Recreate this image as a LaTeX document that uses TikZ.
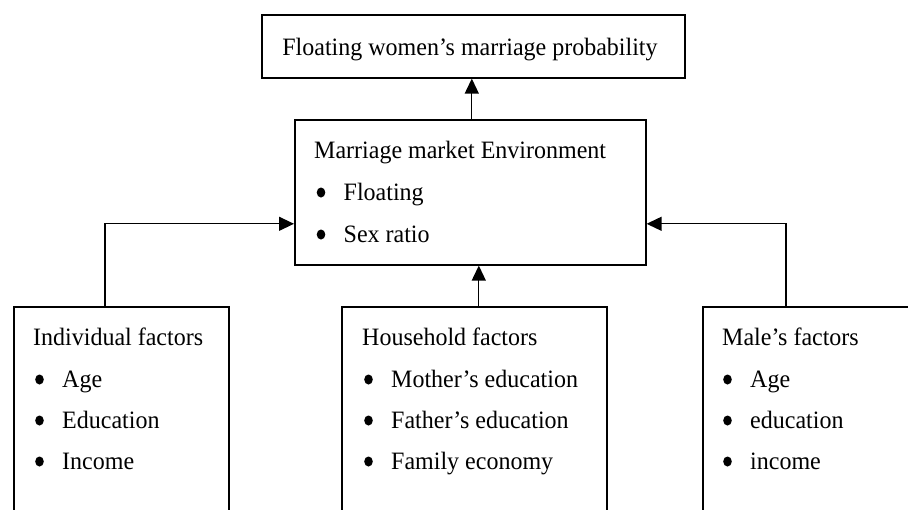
\documentclass[tikz,border=0pt]{standalone}
\usepackage{fontspec}
\setmainfont[FakeStretch=0.96]{Liberation Serif}
\usetikzlibrary{arrows.meta}
\newcommand{\bul}{\tikz[baseline=0pt,x=1pt,y=1pt]{\fill (4.3,7.5) ellipse (4.3 and 5); \path (0,0);}}
\newcommand{\itm}[1]{\makebox[27pt][l]{\bul}#1}
\begin{document}
\begin{tikzpicture}[x=1pt,y=-1pt,
  box/.style={draw, line width=1.6pt, rectangle, inner sep=0pt, anchor=north west},
  txt/.style={anchor=base west, inner sep=0pt, font=\fontsize{25}{29}\selectfont},
  arr/.style={line width=1.3pt, -{Triangle[length=15pt,width=14pt]}}]
\useasboundingbox (0,0) rectangle (908,509);
\clip (0,0) rectangle (908,509);
% boxes
\node[box, minimum width=423pt, minimum height=63pt] (top) at (261,14) {};
\node[box, minimum width=351pt, minimum height=145pt] (mid) at (294,119) {};
\node[box, minimum width=215pt, minimum height=230pt] (lb) at (13,306) {};
\node[box, minimum width=265pt, minimum height=230pt] (mb) at (341,306) {};
\node[box, minimum width=230pt, minimum height=230pt] (rb) at (702,306) {};
% texts
\node[anchor=base, inner sep=0pt, font=\fontsize{25}{29}\selectfont] (t0) at (470,55) {Floating women’s marriage probability};
\node[txt] (m0) at (314,158) {Marriage market Environment};
\node[txt] (m1) at (316.5,200) {\itm{Floating}};
\node[txt] (m2) at (316.5,242) {\itm{Sex ratio}};
\node[txt] (l0) at (33,345) {Individual factors};
\node[txt] (l1) at (35,387) {\itm{Age}};
\node[txt] (l2) at (35,428) {\itm{Education}};
\node[txt] (l3) at (35,469) {\itm{Income}};
\node[txt] (h0) at (362,345) {Household factors};
\node[txt] (h1) at (364,387) {\itm{Mother’s education}};
\node[txt] (h2) at (364,428) {\itm{Father’s education}};
\node[txt] (h3) at (364,469) {\itm{Family economy}};
\node[txt] (r0) at (722,345) {Male’s factors};
\node[txt] (r1) at (723,387) {\itm{Age}};
\node[txt] (r2) at (723,428) {\itm{education}};
\node[txt] (r3) at (723,469) {\itm{income}};
% connectors
\draw[arr] ([xshift=1.5pt]mid.north) -- ([xshift=1.5pt]mid.north |- top.south);
\draw[arr] ([xshift=4.5pt]mb.north) -- ([xshift=4.5pt]mb.north |- mid.south);
\draw[arr] ([xshift=92pt]lb.north west) |- ([yshift=-31.5pt]mid.west);
\draw[arr] ([xshift=84pt]rb.north west) |- ([yshift=-31.5pt]mid.east);
\end{tikzpicture}
\end{document}
